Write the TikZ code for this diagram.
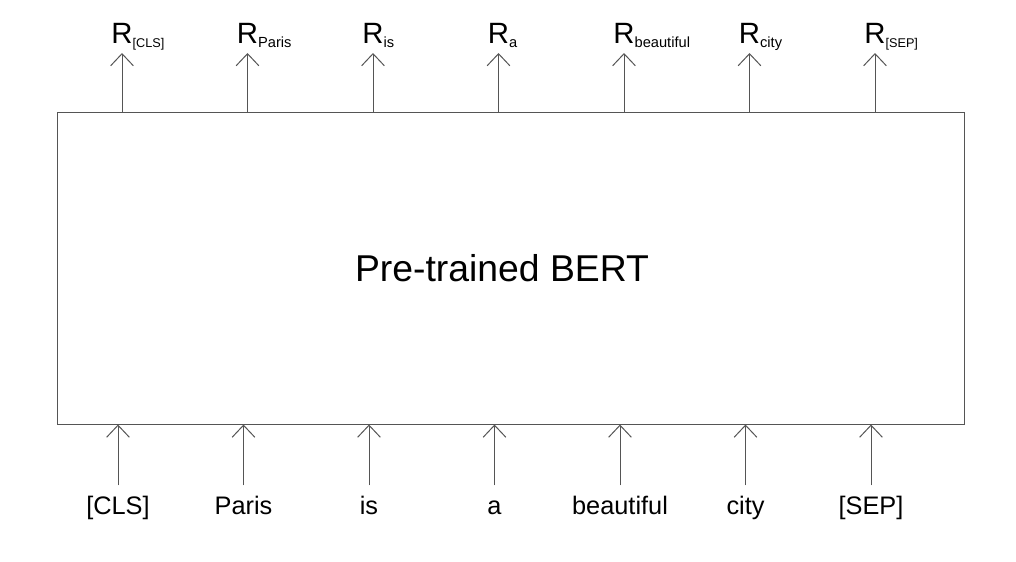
\documentclass[tikz,border=0pt]{standalone}
\usepackage{fontspec}
\setmainfont{Liberation Sans}
\usetikzlibrary{arrows.meta}
\definecolor{linegray}{HTML}{555555}
\tikzset{
  arr/.style={draw=linegray, line width=0.75pt, -{Straight Barb[length=9pt,width=17pt]}},
  bertbox/.style={draw=linegray, line width=0.75pt, minimum width=680.25pt, minimum height=234pt},
  title/.style={font=\fontsize{28}{32}\selectfont},
  token/.style={font=\fontsize{19}{22}\selectfont, anchor=base},
  rep/.style={font=\fontsize{22}{26}\selectfont, inner sep=0pt, anchor=base}
}
\begin{document}
\begin{tikzpicture}[x=0.75pt,y=-0.75pt]
\useasboundingbox (0,0) rectangle (1016,561);
% the encoder
\node[bertbox] (bert) at (510.5,268) {};
\node[title] (name) at (502,268) {Pre-trained BERT};
% input tokens and output representations
\foreach \w/\s [count=\i from 0] in {[CLS]/9.5,Paris/11,is/11,a/11,beautiful/11,city/11,[SEP]/9.5} {
  \node[token] (tok\i) at ({118+125.5*\i},514) {\w};
  \draw[arr] ([yshift=21.5pt]tok\i.base) -- (tok\i.base |- bert.south);
  \node[rep] (rep\i) at ({122+125.5*\i},43) {R\rlap{\fontsize{\s}{\s}\selectfont\raisebox{-3pt}{\w}}};
  \draw[arr] (rep\i.base |- bert.north) -- ([yshift=-7.5pt]rep\i.base);
}
\end{tikzpicture}
\end{document}
